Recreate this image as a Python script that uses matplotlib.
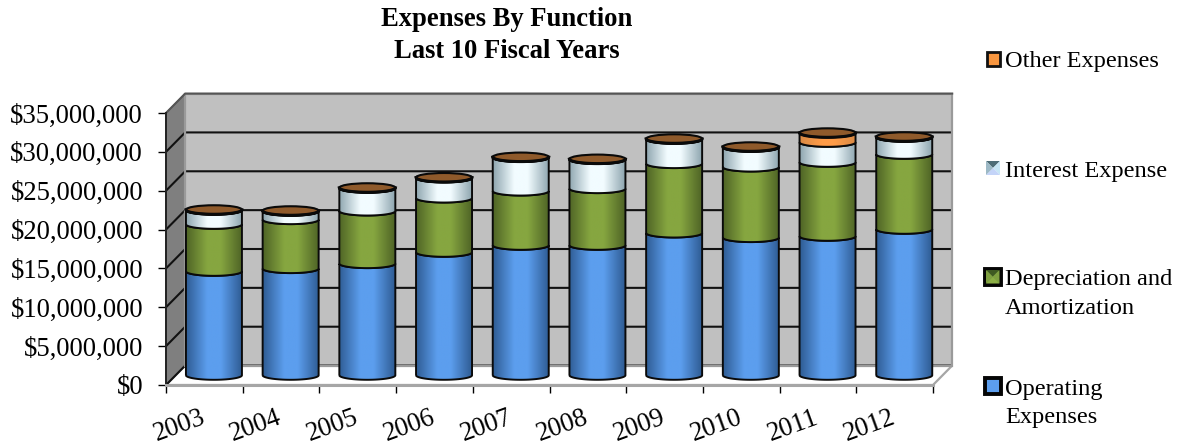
"""Expenses by function, drawn as a fake-3D stacked cylinder chart."""

import numpy as np
import matplotlib
matplotlib.use("Agg")
import matplotlib.pyplot as plt
from matplotlib.colors import LinearSegmentedColormap
from matplotlib.patches import Ellipse, PathPatch, Polygon, Rectangle
from matplotlib.path import Path
from matplotlib.ticker import FuncFormatter

plt.rcParams["font.family"] = ["Liberation Serif", "DejaVu Serif"]

years = ["2003", "2004", "2005", "2006", "2007", "2008", "2009", "2010", "2011", "2012"]
operating = [13.38e6, 13.73e6, 14.37e6, 15.83e6, 16.73e6, 16.73e6, 18.31e6, 17.72e6, 17.89e6, 18.79e6]
depreciation = [6.05e6, 6.30e6, 6.77e6, 6.98e6, 6.98e6, 7.29e6, 8.93e6, 9.08e6, 9.52e6, 9.65e6]
interest = [1.82e6, 1.09e6, 2.94e6, 2.59e6, 4.32e6, 3.75e6, 3.14e6, 2.55e6, 2.57e6, 2.20e6]
other = [0.05e6, 0.05e6, 0.05e6, 0.05e6, 0.05e6, 0.05e6, 0.05e6, 0.05e6, 1.22e6, 0.05e6]
y_ticks = [0, 5e6, 10e6, 15e6, 20e6, 25e6, 30e6, 35e6]

# depth of the fake 3D box, in data units
DEPTH_X = 0.25
DEPTH_Y = 2.5e6
HALF_W = 0.365
ELLIPSE_H = 0.58e6

W, H = 1183, 445


def gradient(dark, light):
    return LinearSegmentedColormap.from_list(
        "g", [(0, dark), (0.38, light), (0.62, light), (1, dark)], N=128)


series = [
    (operating, gradient("#2F5C94", "#5C9EEE")),
    (depreciation, gradient("#4F6426", "#86A640")),
    (interest, gradient("#8FA6B0", "#F2FCFF")),
    (other, gradient("#D98A45", "#FF9C48")),
]

fig = plt.figure(figsize=(W / 100, H / 100), dpi=100)
ax = fig.add_axes([166 / W, 1 - 385 / H, (933 - 166) / W, (385 - 113) / H])
ax.patch.set_visible(False)
ax.set_xlim(-0.5, 9.5)
ax.set_ylim(0, 35e6)
for s in ax.spines.values():
    s.set_visible(False)

x0, x1 = -0.5, 9.5
top = 35e6

# walls and floor
ax.add_patch(Polygon([(x0, 0), (x0 + DEPTH_X, DEPTH_Y), (x1 + DEPTH_X, DEPTH_Y), (x1, 0)],
                     fc="white", ec="#A6A6A6", lw=1.6, clip_on=False, zorder=1))
ax.add_patch(Polygon([(x0, 0), (x0 + DEPTH_X, DEPTH_Y), (x0 + DEPTH_X, top + DEPTH_Y), (x0, top)],
                     fc="#7F7F7F", ec="#666666", lw=1, clip_on=False, zorder=1))
ax.add_patch(Rectangle((x0 + DEPTH_X, DEPTH_Y), x1 - x0, top, fc="#C0C0C0", ec="none",
                       clip_on=False, zorder=1))
for v in y_ticks[:-1]:
    ax.plot([x0, x0 + DEPTH_X, x1 + DEPTH_X], [v, v + DEPTH_Y, v + DEPTH_Y],
            color="#111111", lw=1.5, clip_on=False, zorder=2, solid_capstyle="butt")
ax.add_patch(Rectangle((x0 + DEPTH_X, DEPTH_Y), x1 - x0, top, fc="none", ec="#9A9A9A",
                       lw=1.6, clip_on=False, zorder=3))
ax.plot([x0, x0 + DEPTH_X, x1 + DEPTH_X], [top, top + DEPTH_Y, top + DEPTH_Y],
        color="#555555", lw=1.5, clip_on=False, zorder=3)
ax.plot([x0, x0], [0, top], color="#222222", lw=1.4, clip_on=False, zorder=3)
ax.plot([x0, x1], [0, 0], color="#A6A6A6", lw=2.2, clip_on=False, zorder=3)

# cylinders
t = np.linspace(np.pi, 2 * np.pi, 40)
z = 10
for i in range(len(years)):
    cx = i + DEPTH_X / 2
    base = DEPTH_Y / 2
    for values, cmap in series:
        y0 = base
        y1 = base + values[i]
        xs = cx + HALF_W * np.cos(t)
        lower = np.sin(t) * ELLIPSE_H
        verts = list(zip(xs, y0 + lower)) + list(zip(xs[::-1], y1 + lower[::-1]))
        patch = PathPatch(Path(verts + [verts[0]]), fc="none", ec="#0A0A0A", lw=1.4,
                          clip_on=False, zorder=z + 1)
        ax.add_patch(patch)
        im = ax.imshow(np.linspace(0, 1, 128)[None, :], cmap=cmap, aspect="auto",
                       extent=[cx - HALF_W, cx + HALF_W, y0 - ELLIPSE_H, y1 + ELLIPSE_H],
                       interpolation="bilinear", zorder=z)
        im.set_clip_path(patch)
        z += 2
        base = y1
    ax.add_patch(Ellipse((cx, base), 2 * HALF_W, 2 * ELLIPSE_H, fc="#8F5A2B", ec="#0A0A0A",
                         lw=1.5, clip_on=False, zorder=z))
    ax.plot(cx + HALF_W * np.cos(t), base + ELLIPSE_H * np.sin(t), color="#0A0A0A", lw=2.2,
            clip_on=False, zorder=z + 1)
    z += 2

ax.set_xlim(-0.5, 9.5)
ax.set_ylim(0, 35e6)

# axes ticks and labels
ax.set_yticks(y_ticks)
ax.yaxis.set_major_formatter(FuncFormatter(lambda v, _: f"${v:,.0f}"))
ax.tick_params(axis="y", length=5.5, width=1, pad=11, labelsize=19.2)
ax.set_xticks(np.arange(-0.5, 10, 1))
ax.set_xticklabels([])
ax.tick_params(axis="x", which="major", length=5.5, width=1)
for i, year in enumerate(years):
    ax.annotate(year, (i, 0), xytext=(-25, -41), textcoords="offset pixels", ha="center",
                va="center", rotation=20, fontsize=19.2, annotation_clip=False)

fig.text(507 / W, 1 - 20 / H, "Expenses By Function", ha="center", va="center",
         fontsize=19.2, fontweight="bold")
fig.text(507 / W, 1 - 51 / H, "Last 10 Fiscal Years", ha="center", va="center",
         fontsize=19.2, fontweight="bold")

# legend, laid out by hand because the entries are unevenly spaced
legend_text = [
    (62, "Other Expenses"),
    (172, "Interest Expense"),
    (280, "Depreciation and"),
    (308, "Amortization"),
    (389, "Operating"),
    (418, "Expenses"),
]
for py, label in legend_text:
    fig.text(1005 / W, 1 - py / H, label, ha="left", va="center", fontsize=17.6)


def fig_square(left, top_px, size, fc, ec, lw):
    fig.add_artist(Rectangle((left / W, 1 - (top_px + size) / H), size / W, size / H, fc=fc, ec=ec,
                             lw=lw, transform=fig.transFigure))


def pinwheel(mx, my, sz, colors):
    corners = [(mx, my), (mx + sz, my), (mx + sz, my + sz), (mx, my + sz)]
    centre = (mx + sz / 2, my + sz / 2)
    for k, c in enumerate(colors):
        tri = [corners[k], corners[(k + 1) % 4], centre]
        fig.add_artist(Polygon([(px / W, 1 - py / H) for px, py in tri], fc=c, ec="none",
                               transform=fig.transFigure))


fig_square(986.5, 52.5, 13.5, "#F9963F", "#111111", 2)
fig_square(985, 269, 15.5, "#6F9440", "#050505", 2.8)
pinwheel(986, 270, 13.5, ["#3F5A22", "#7FA040", "#8CAF45", "#7FA040"])
fig_square(985, 378, 15.5, "#5C9EEE", "#050505", 2.8)
pinwheel(986, 161, 14, ["#4F6E78", "#C7E6F5", "#C4D4F8", "#9DB9C6"])

fig.savefig("out.png", dpi=100)
